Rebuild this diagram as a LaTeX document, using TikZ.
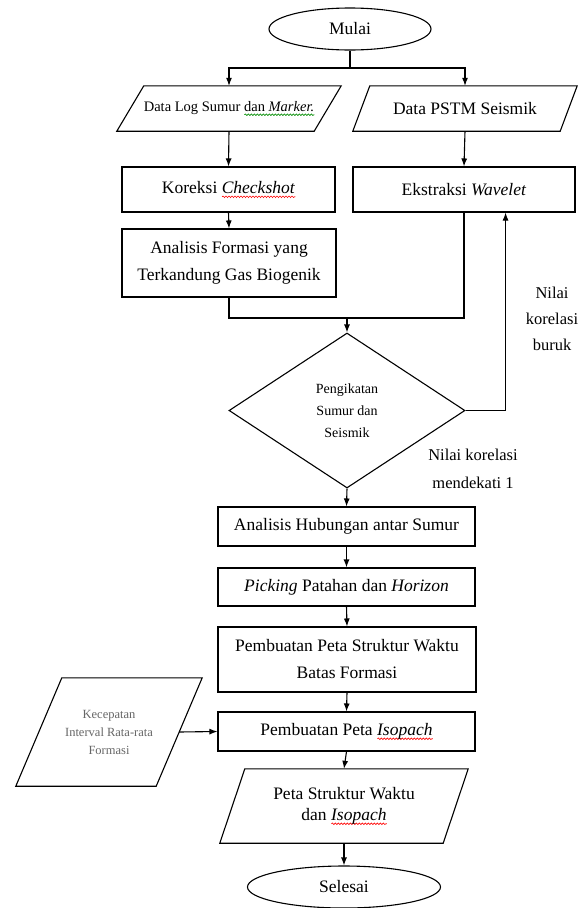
\documentclass[tikz,border=0pt]{standalone}
\usepackage{fontspec}
\setmainfont{Liberation Serif}
\usetikzlibrary{shapes.geometric,arrows.meta,calc,decorations.pathmorphing}
\newsavebox\wvbox
\newcommand\wv[2]{\sbox\wvbox{#2}\rlap{\tikz[baseline=0pt]\draw[#1,line width=0.6pt,decorate,decoration={snake,amplitude=0.8pt,segment length=3pt}] (0pt,-3.5pt) -- (\wd\wvbox,-3.5pt);}\usebox\wvbox}
\tikzset{
  ln/.style={line width=1.1pt},
  arr/.style={ln,-{Latex[length=8pt,width=6pt]}},
  box/.style={draw,ln,inner sep=0pt,align=center,font=\fontsize{17.5}{27}\selectfont},
  pbox/.style={inner sep=0pt,align=center,font=\fontsize{17.5}{21}\selectfont},
  term/.style={draw,ln,ellipse,inner sep=0pt,font=\fontsize{17.5}{21}\selectfont},
  lbl/.style={inner sep=0pt,align=center,font=\fontsize{16.5}{26}\selectfont},
}
\begin{document}
\begin{tikzpicture}[x=1pt,y=-1pt]
\useasboundingbox (0,0) rectangle (587,908);
% start
\node[term,minimum width=162,minimum height=42] (mulai) at (350,29) {Mulai};
% input parallelograms
\node[pbox,minimum width=224,minimum height=45,font=\fontsize{14.5}{18}\selectfont] (p1) at (229,108.5) {Data Log Sumur \wv{green!55!black}{dan \textit{Marker.}}};
\draw[ln] ($(p1.north west)+(27,0)$) -- (p1.north east) -- ($(p1.south east)+(-27,0)$) -- (p1.south west) -- cycle;
\node[pbox,minimum width=224,minimum height=45] (p2) at (465,108.5) {Data PSTM Seismik};
\draw[ln] ($(p2.north west)+(17,0)$) -- (p2.north east) -- ($(p2.south east)+(-17,0)$) -- (p2.south west) -- cycle;
% boxes
\node[box,minimum width=213,minimum height=45] (ko) at (228.5,189.5) {Koreksi \wv{red}{\textit{Checkshot}}};
\node[box,minimum width=222,minimum height=45] (ek) at (464,189.5) {Ekstraksi \textit{Wavelet}};
\node[box,minimum width=214,minimum height=68] (af) at (229,263) {Analisis Formasi yang\\Terkandung Gas Biogenik};
% decision
\node[draw,ln,diamond,minimum width=236,minimum height=155,inner sep=0pt,align=center,font=\fontsize{14}{22}\selectfont] (dia) at (347,410.5) {Pengikatan\\Sumur dan\\Seismik};
% lower chain
\node[box,minimum width=257,minimum height=39] (ah) at (346.5,526.5) {Analisis Hubungan antar Sumur};
\node[box,minimum width=257,minimum height=38] (pk) at (346.5,587) {\textit{Picking} Patahan dan \textit{Horizon}};
\node[box,minimum width=258,minimum height=65] (ps) at (347,659.5) {Pembuatan Peta Struktur Waktu\\Batas Formasi};
\node[box,minimum width=257,minimum height=39] (iso) at (346.5,731.5) {Pembuatan Peta \wv{red}{\textit{Isopach}}};
\node[pbox,minimum width=248,minimum height=74] (out) at (344,806) {Peta Struktur Waktu\\dan \wv{red}{\textit{Isopach}}};
\draw[ln] ($(out.north west)+(25,0)$) -- (out.north east) -- ($(out.south east)+(-25,0)$) -- (out.south west) -- cycle;
\node[term,minimum width=193,minimum height=42] (sel) at (344,887) {Selesai};
% side input
\node[pbox,minimum width=186,minimum height=108,text=black!60,font=\fontsize{12.5}{18}\selectfont] (kec) at (109,732) {Kecepatan\\Interval Rata-rata\\Formasi};
\draw[ln] ($(kec.north west)+(46,0)$) -- (kec.north east) -- ($(kec.south east)+(-46,0)$) -- (kec.south west) -- cycle;
\coordinate (kr) at ($(kec.east)+(-23,0)$);
% labels
\node[lbl] (nb) at (552,319) {Nilai\\korelasi\\buruk};
\node[lbl,font=\fontsize{16.5}{28}\selectfont] (nm) at (473,469) {Nilai korelasi\\mendekati 1};
% connectors
\coordinate (split) at (350,68);
\draw[ln] (mulai.south) -- (split);
\draw[arr] (split) -| (p1.north);
\draw[arr] (split) -| (p2.north);
\draw[arr] (p1.south) -- (ko.north);
\draw[arr] (p2.south) -- (ek.north);
\draw[arr] (ko.south) -- (af.north);
\coordinate (join) at (347,318);
\draw[ln] (af.south) |- (join) -| (ek.south);
\draw[arr] (join) -- (dia.north);
\draw[arr] (dia.east) -| ($(ek.south east)+(-70,0)$);
\draw[arr] (dia.south) -- (ah.north);
\draw[arr] (ah.south) -- (pk.north);
\draw[arr] (pk.south) -- (ps.north);
\draw[arr] (ps.south) -- (iso.north);
\draw[arr] (iso.south) -- (out.north);
\draw[arr] (out.south) -- (sel.north);
\draw[arr] (kr) -- (iso.west);
\end{tikzpicture}
\end{document}
